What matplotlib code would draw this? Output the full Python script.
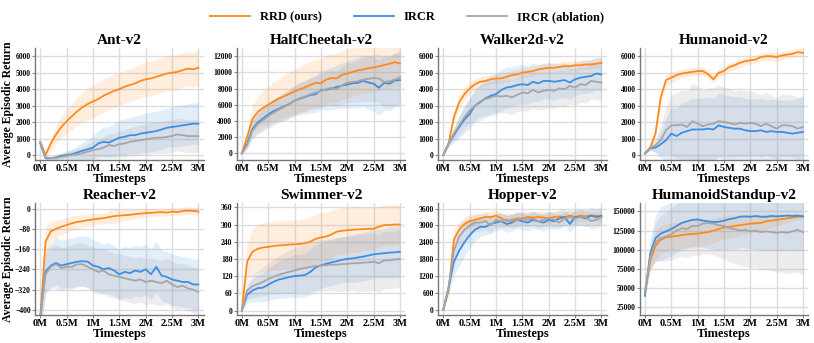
import numpy as np
import matplotlib.pyplot as plt

plt.rcParams['font.family'] = ['Liberation Serif', 'DejaVu Serif']
plt.rcParams['font.weight'] = 'bold'

# timesteps in millions
steps = [0.0, 0.1, 0.2, 0.3, 0.4, 0.5, 0.6, 0.7, 0.8, 0.9, 1.0, 1.1, 1.2, 1.3, 1.4, 1.5,
         1.6, 1.7, 1.8, 1.9, 2.0, 2.1, 2.2, 2.3, 2.4, 2.5, 2.6, 2.7, 2.8, 2.9, 3.0]

# Ant-v2
ant_rrd = [800, 0, 700, 1250, 1700, 2050, 2350, 2650, 2900, 3100, 3250, 3400, 3600, 3750, 3900, 4000,
           4150, 4250, 4350, 4500, 4600, 4650, 4750, 4850, 4950, 5000, 5050, 5150, 5250, 5200, 5300]
ant_rrd_sd = [100, 150, 400, 550, 650, 750, 800, 850, 900, 950, 1000, 1000, 1000, 1000, 1000, 1000,
              1000, 1000, 1000, 1000, 1050, 1050, 1050, 1050, 1050, 1050, 1050, 1050, 1050, 1050, 1050]
ant_ircr = [700, -200, -200, -150, -50, 0, 50, 150, 250, 350, 450, 700, 800, 750, 900, 1050,
            1100, 1200, 1200, 1300, 1350, 1400, 1450, 1550, 1650, 1700, 1750, 1800, 1850, 1900, 1900]
ant_ircr_sd = [100, 100, 100, 150, 200, 250, 300, 400, 500, 600, 700, 800, 900, 950, 1000, 1050,
               1100, 1100, 1150, 1150, 1200, 1200, 1200, 1200, 1200, 1200, 1250, 1250, 1250, 1250, 1250]
ant_abl = [800, -150, -200, -180, -120, -60, 0, 50, 100, 200, 300, 350, 450, 600, 550, 650,
           700, 800, 850, 900, 950, 1000, 1050, 1050, 1100, 1150, 1250, 1200, 1150, 1150, 1150]
ant_abl_sd = [100, 100, 100, 150, 200, 250, 300, 350, 400, 500, 550, 600, 650, 700, 750, 800,
              850, 850, 900, 900, 950, 950, 950, 1000, 1000, 1000, 1000, 1000, 1000, 1000, 1000]

# HalfCheetah-v2
hc_rrd = [0, 2000, 4200, 5100, 5600, 6000, 6400, 6750, 7050, 7350, 7650, 7900, 8150, 8450, 8700, 8650,
          9100, 9300, 9250, 9700, 9850, 10050, 10250, 10350, 10500, 10600, 10750, 10900, 11050, 11250, 11100]
hc_rrd_sd = [0, 1000, 1600, 1900, 2100, 2300, 2400, 2500, 2600, 2700, 2800, 2800, 2900, 2900, 3000, 3000,
             3000, 3000, 3000, 3000, 3000, 3000, 3000, 3000, 3000, 3000, 3000, 3000, 3000, 3000, 3000]
hc_ircr = [0, 1200, 3000, 3800, 4300, 4800, 5200, 5500, 5800, 6100, 6500, 6750, 6950, 7200, 7300, 7800,
           7850, 8000, 8200, 8350, 8500, 8650, 8700, 8950, 8750, 8600, 8100, 8700, 8600, 9000, 9050]
hc_ircr_sd = [0, 500, 1000, 1200, 1300, 1400, 1500, 1600, 1700, 1800, 1900, 2000, 2100, 2200, 2300, 2400,
              2500, 2600, 2700, 2800, 2900, 3000, 3100, 3200, 3300, 3400, 3400, 3400, 3300, 3300, 3300]
hc_abl = [0, 1000, 2800, 3600, 4100, 4600, 5000, 5400, 5700, 6100, 6500, 6800, 7000, 7300, 7500, 7700,
          7900, 8100, 7900, 8400, 8700, 8800, 8900, 9100, 9200, 9300, 9250, 8800, 8900, 9100, 9400]
hc_abl_sd = [0, 600, 1100, 1300, 1400, 1500, 1600, 1600, 1700, 1700, 1800, 1850, 1900, 1950, 2000, 2050,
             2100, 2150, 2200, 2300, 2400, 2500, 2600, 2700, 2800, 2900, 3000, 3100, 3200, 3300, 3300]

# Walker2d-v2
wk_rrd = [0, 700, 2300, 3200, 3700, 4050, 4300, 4450, 4500, 4600, 4650, 4650, 4750, 4850, 4900, 5000,
          5050, 5100, 5200, 5250, 5300, 5300, 5350, 5400, 5400, 5450, 5450, 5500, 5500, 5550, 5600]
wk_rrd_sd = [0, 150, 300, 400, 400, 350, 350, 300, 300, 300, 300, 300, 300, 300, 300, 300,
             300, 300, 300, 300, 300, 300, 300, 300, 300, 300, 300, 300, 300, 300, 300]
wk_ircr = [0, 700, 1200, 1700, 2150, 2500, 3000, 3200, 3450, 3600, 3700, 3950, 4100, 4150, 4250, 4300,
           4250, 4450, 4350, 4500, 4500, 4450, 4500, 4550, 4400, 4600, 4700, 4750, 4800, 4950, 4900]
wk_ircr_sd = [0, 200, 400, 700, 800, 900, 1000, 1100, 1150, 1200, 1250, 1250, 1250, 1200, 1200, 1200,
              1150, 1150, 1100, 1100, 1100, 1100, 1050, 1050, 1050, 1000, 1000, 1000, 1000, 1000, 1000]
wk_abl = [0, 700, 1300, 1800, 2300, 2700, 3000, 3250, 3400, 3500, 3600, 3550, 3600, 3500, 3650, 3800,
          3750, 3950, 3800, 3900, 3950, 3900, 4050, 4000, 4200, 4100, 4300, 4250, 4500, 4450, 4400]
wk_abl_sd = [0, 200, 400, 600, 700, 800, 900, 950, 1000, 1000, 1000, 1000, 1050, 1050, 1050, 1100,
             1100, 1100, 1100, 1100, 1100, 1100, 1100, 1100, 1100, 1100, 1100, 1100, 1100, 1100, 1100]

# Humanoid-v2
hu_rrd = [100, 450, 1300, 3500, 4550, 4700, 4850, 4950, 5000, 5050, 5100, 5100, 4900, 4600, 5000, 5100,
          5350, 5450, 5600, 5700, 5750, 5800, 5950, 6000, 6000, 5950, 6050, 6100, 6150, 6250, 6200]
hu_rrd_sd = [50, 100, 300, 400, 350, 300, 300, 250, 250, 250, 250, 250, 250, 250, 250, 250,
             250, 250, 250, 250, 250, 250, 250, 250, 250, 250, 250, 250, 250, 250, 250]
hu_ircr = [100, 400, 450, 650, 900, 1300, 1150, 1350, 1450, 1550, 1550, 1550, 1600, 1550, 1800, 1700,
           1650, 1600, 1600, 1500, 1450, 1450, 1500, 1400, 1450, 1400, 1400, 1350, 1300, 1350, 1400]
hu_ircr_sd = [50, 100, 300, 800, 1300, 1600, 1700, 1800, 1800, 1900, 1900, 1900, 1900, 1900, 1950, 1950,
              1950, 1950, 1950, 1950, 1950, 1950, 1950, 1950, 1950, 1950, 1950, 2000, 2050, 2100, 2100]
hu_abl = [100, 400, 600, 900, 1500, 1800, 1800, 1850, 1700, 2050, 1900, 1750, 1850, 1900, 2050, 2000,
          1950, 1850, 1950, 1900, 1950, 1900, 1750, 1900, 1750, 1600, 1800, 1800, 1750, 1600, 1700]
hu_abl_sd = [50, 150, 400, 900, 1400, 1800, 2000, 2100, 2200, 2300, 2300, 2200, 2200, 2200, 2200, 2100,
             2100, 2000, 2000, 2000, 2000, 1900, 1900, 1900, 1900, 1900, 1900, 1900, 1900, 1900, 1900]

# Reacher-v2
re_rrd = [-430, -130, -90, -80, -72, -65, -58, -53, -50, -46, -43, -40, -38, -34, -30, -28,
          -26, -25, -22, -20, -18, -17, -15, -14, -16, -12, -14, -10, -8, -9, -12]
re_rrd_sd = [50, 60, 40, 35, 30, 30, 28, 28, 25, 25, 25, 22, 22, 25, 30, 25,
             22, 20, 20, 18, 18, 15, 15, 15, 15, 15, 15, 15, 15, 15, 15]
re_ircr = [-430, -250, -225, -215, -225, -220, -215, -210, -208, -210, -225, -230, -240, -235, -245, -260,
           -250, -255, -245, -250, -240, -260, -230, -265, -270, -280, -285, -290, -290, -300, -300]
re_ircr_sd = [60, 80, 90, 100, 100, 100, 100, 100, 100, 100, 100, 100, 100, 100, 100, 100,
              100, 100, 100, 100, 100, 100, 100, 100, 100, 100, 100, 100, 100, 100, 100]
re_abl = [-430, -260, -230, -220, -235, -230, -230, -220, -220, -230, -240, -250, -245, -260, -265, -270,
          -275, -280, -285, -280, -290, -285, -290, -295, -285, -300, -310, -305, -315, -320, -330]
re_abl_sd = [60, 80, 80, 80, 80, 80, 85, 85, 85, 85, 90, 90, 90, 90, 90, 90,
             90, 90, 90, 90, 90, 90, 90, 90, 90, 90, 90, 90, 90, 90, 90]

# Swimmer-v2
sw_rrd = [0, 170, 205, 215, 220, 222, 225, 227, 228, 230, 231, 232, 235, 240, 250, 255,
          258, 265, 275, 278, 280, 282, 283, 284, 285, 285, 292, 298, 298, 300, 300]
sw_rrd_sd = [0, 60, 80, 85, 85, 85, 85, 85, 85, 85, 85, 85, 85, 85, 85, 85,
             85, 85, 80, 80, 80, 80, 80, 75, 75, 75, 70, 70, 70, 70, 70]
sw_ircr = [0, 55, 70, 78, 80, 90, 100, 108, 112, 117, 120, 122, 124, 135, 150, 158,
           163, 168, 172, 177, 180, 182, 185, 188, 192, 196, 198, 200, 202, 203, 205]
sw_ircr_sd = [0, 30, 40, 45, 50, 55, 60, 65, 70, 70, 75, 75, 75, 80, 80, 80,
              80, 80, 80, 80, 80, 85, 85, 85, 85, 85, 85, 85, 90, 90, 90]
sw_abl = [0, 70, 85, 92, 100, 110, 118, 125, 130, 135, 140, 145, 148, 152, 155, 157,
          158, 160, 160, 162, 163, 165, 165, 167, 168, 170, 165, 175, 175, 178, 180]
sw_abl_sd = [0, 30, 40, 45, 50, 55, 60, 65, 70, 75, 80, 80, 85, 85, 90, 90,
             90, 90, 95, 95, 95, 95, 100, 100, 100, 100, 100, 100, 100, 100, 100]

# Hopper-v2
ho_rrd = [0, 700, 2500, 2850, 3050, 3150, 3200, 3250, 3300, 3300, 3350, 3250, 3150, 3200, 3250, 3250,
          3300, 3280, 3300, 3280, 3250, 3300, 3320, 3300, 3350, 3300, 3350, 3330, 3350, 3350, 3300]
ho_rrd_sd = [0, 200, 350, 300, 250, 250, 220, 200, 200, 200, 200, 200, 200, 200, 200, 200,
             200, 200, 200, 200, 200, 200, 200, 200, 200, 200, 200, 200, 200, 200, 200]
ho_ircr = [0, 800, 1700, 2100, 2400, 2650, 2850, 2950, 2950, 3050, 3100, 3150, 3050, 3100, 3200, 3150,
           3100, 3200, 3150, 3100, 3200, 3150, 3250, 3300, 3050, 3300, 3300, 3250, 3350, 3300, 3350]
ho_ircr_sd = [0, 200, 500, 550, 500, 450, 400, 350, 300, 300, 300, 300, 300, 300, 300, 300,
              300, 300, 300, 300, 300, 300, 300, 300, 300, 300, 300, 300, 300, 300, 300]
ho_abl = [0, 800, 2100, 2600, 2850, 3000, 3100, 3100, 3150, 3000, 3200, 3150, 3200, 3150, 3200, 3250,
          3200, 3250, 3150, 3200, 3250, 3200, 3100, 3250, 3300, 3250, 3300, 3300, 3150, 3200, 3300]
ho_abl_sd = [0, 200, 400, 400, 350, 300, 300, 300, 300, 300, 250, 250, 250, 250, 250, 250,
             250, 250, 250, 250, 250, 250, 250, 250, 250, 250, 250, 250, 300, 300, 300]

# HumanoidStandup-v2
hs_rrd = [45000, 85000, 105000, 113000, 116000, 117000, 118000, 119000, 120000, 120500, 121000, 122000,
          123000, 125000, 127000, 129000, 130000, 131000, 132000, 133000, 134000, 134500, 135000, 137000,
          138000, 139000, 140000, 141000, 142000, 143000, 143500]
hs_rrd_sd = [5000, 15000, 18000, 18000, 18000, 18000, 18000, 18000, 18000, 18000, 18000, 17000,
             17000, 16000, 16000, 15000, 15000, 14000, 14000, 13000, 12000, 12000, 11000, 10000,
             9000, 8000, 7000, 6000, 5000, 4000, 4000]
hs_ircr = [40000, 95000, 115000, 121000, 124000, 127000, 131000, 135000, 137000, 139000, 139500, 138000,
           137000, 136000, 136500, 138000, 140000, 141000, 143000, 143500, 143000, 144000, 143000, 143000,
           144000, 143500, 144000, 144500, 144000, 144500, 143500]
hs_ircr_sd = [5000, 20000, 30000, 35000, 35000, 35000, 35000, 35000, 35000, 35000, 35000, 35000,
              35000, 35000, 37000, 38000, 39000, 40000, 40000, 41000, 42000, 43000, 44000, 45000,
              45000, 45000, 45000, 45000, 45000, 45000, 45000]
hs_abl = [45000, 90000, 110000, 115000, 117000, 120000, 125000, 128000, 127000, 131000, 131000, 134000,
          135000, 134000, 132000, 131000, 128000, 127000, 125000, 126000, 124000, 125000, 123000, 124000,
          123000, 122000, 123000, 122000, 124000, 126000, 123000]
hs_abl_sd = [5000, 15000, 25000, 30000, 32000, 34000, 35000, 36000, 37000, 38000, 39000, 40000,
             40000, 41000, 42000, 43000, 44000, 45000, 46000, 47000, 48000, 48000, 49000, 50000,
             50000, 51000, 52000, 53000, 54000, 55000, 56000]

titles = ['Ant-v2', 'HalfCheetah-v2', 'Walker2d-v2', 'Humanoid-v2',
          'Reacher-v2', 'Swimmer-v2', 'Hopper-v2', 'HumanoidStandup-v2']
panels = [
    (ant_rrd, ant_rrd_sd, ant_ircr, ant_ircr_sd, ant_abl, ant_abl_sd),
    (hc_rrd, hc_rrd_sd, hc_ircr, hc_ircr_sd, hc_abl, hc_abl_sd),
    (wk_rrd, wk_rrd_sd, wk_ircr, wk_ircr_sd, wk_abl, wk_abl_sd),
    (hu_rrd, hu_rrd_sd, hu_ircr, hu_ircr_sd, hu_abl, hu_abl_sd),
    (re_rrd, re_rrd_sd, re_ircr, re_ircr_sd, re_abl, re_abl_sd),
    (sw_rrd, sw_rrd_sd, sw_ircr, sw_ircr_sd, sw_abl, sw_abl_sd),
    (ho_rrd, ho_rrd_sd, ho_ircr, ho_ircr_sd, ho_abl, ho_abl_sd),
    (hs_rrd, hs_rrd_sd, hs_ircr, hs_ircr_sd, hs_abl, hs_abl_sd),
]
yticks = [
    [0, 1000, 2000, 3000, 4000, 5000, 6000],
    [0, 2000, 4000, 6000, 8000, 10000, 12000],
    [0, 1000, 2000, 3000, 4000, 5000, 6000],
    [0, 1000, 2000, 3000, 4000, 5000, 6000],
    [0, -80, -160, -240, -320, -400],
    [0, 60, 120, 180, 240, 300, 360],
    [0, 600, 1200, 1800, 2400, 3000, 3600],
    [25000, 50000, 75000, 100000, 125000, 150000],
]
ylims = [(-300, 6500), (-800, 13000), (-300, 6500), (-300, 6500),
         (-420, 22), (-15, 375), (-190, 3800), (15000, 161000)]

labels = ['RRD (ours)', 'IRCR', 'IRCR (ablation)']
colors = ['#ff8a1c', '#3d8ee3', '#a6a6a6']
band_alpha = [0.15, 0.15, 0.2]
xticks = [0, 0.5, 1, 1.5, 2, 2.5, 3]
xticklabels = ['0M', '0.5M', '1M', '1.5M', '2M', '2.5M', '3M']

fig, axes = plt.subplots(2, 4, figsize=(8.14, 3.43), dpi=100)
fig.subplots_adjust(left=0.043, right=0.993, bottom=0.082, top=0.86, wspace=0.195, hspace=0.385)
x = np.array(steps)

for i, ax in enumerate(axes.flat):
    data = panels[i]
    for k in range(3):
        m = np.array(data[2 * k])
        s = np.array(data[2 * k + 1])
        ax.fill_between(x, m - s, m + s, color=colors[k], alpha=band_alpha[k], lw=0)
        ax.plot(x, m, color=colors[k], lw=1.3, label=labels[k])
    ax.set_xlim(-0.1, 3.1)
    ax.set_ylim(*ylims[i])
    ax.set_xticks(xticks)
    ax.set_xticklabels(xticklabels)
    ax.set_yticks(yticks[i])
    ax.tick_params(axis='x', labelsize=7.5, length=2, pad=1, color='#888888')
    ax.tick_params(axis='y', labelsize=5.5, length=2, pad=1, color='#888888')
    ax.grid(True, color='#dddddd', lw=1.0)
    ax.set_axisbelow(True)
    for side in ['top', 'right']:
        ax.spines[side].set_visible(False)
    for side in ['left', 'bottom']:
        ax.spines[side].set_color('#777777')
        ax.spines[side].set_linewidth(1.0)
    ax.set_title(titles[i], fontsize=11, fontweight='bold', pad=3)
    ax.set_xlabel('Timesteps', fontsize=9, fontweight='bold', labelpad=0)
    if i % 4 == 0:
        ax.set_ylabel('Average Episodic Return', fontsize=8.5, fontweight='bold', labelpad=1)

handles, labs = axes[0, 0].get_legend_handles_labels()
fig.legend(handles, labs, loc='center', bbox_to_anchor=(0.5, 0.95), ncol=3, frameon=False,
           fontsize=9, handlelength=3.2, columnspacing=2.5)

fig.savefig('out.png', dpi=100)
